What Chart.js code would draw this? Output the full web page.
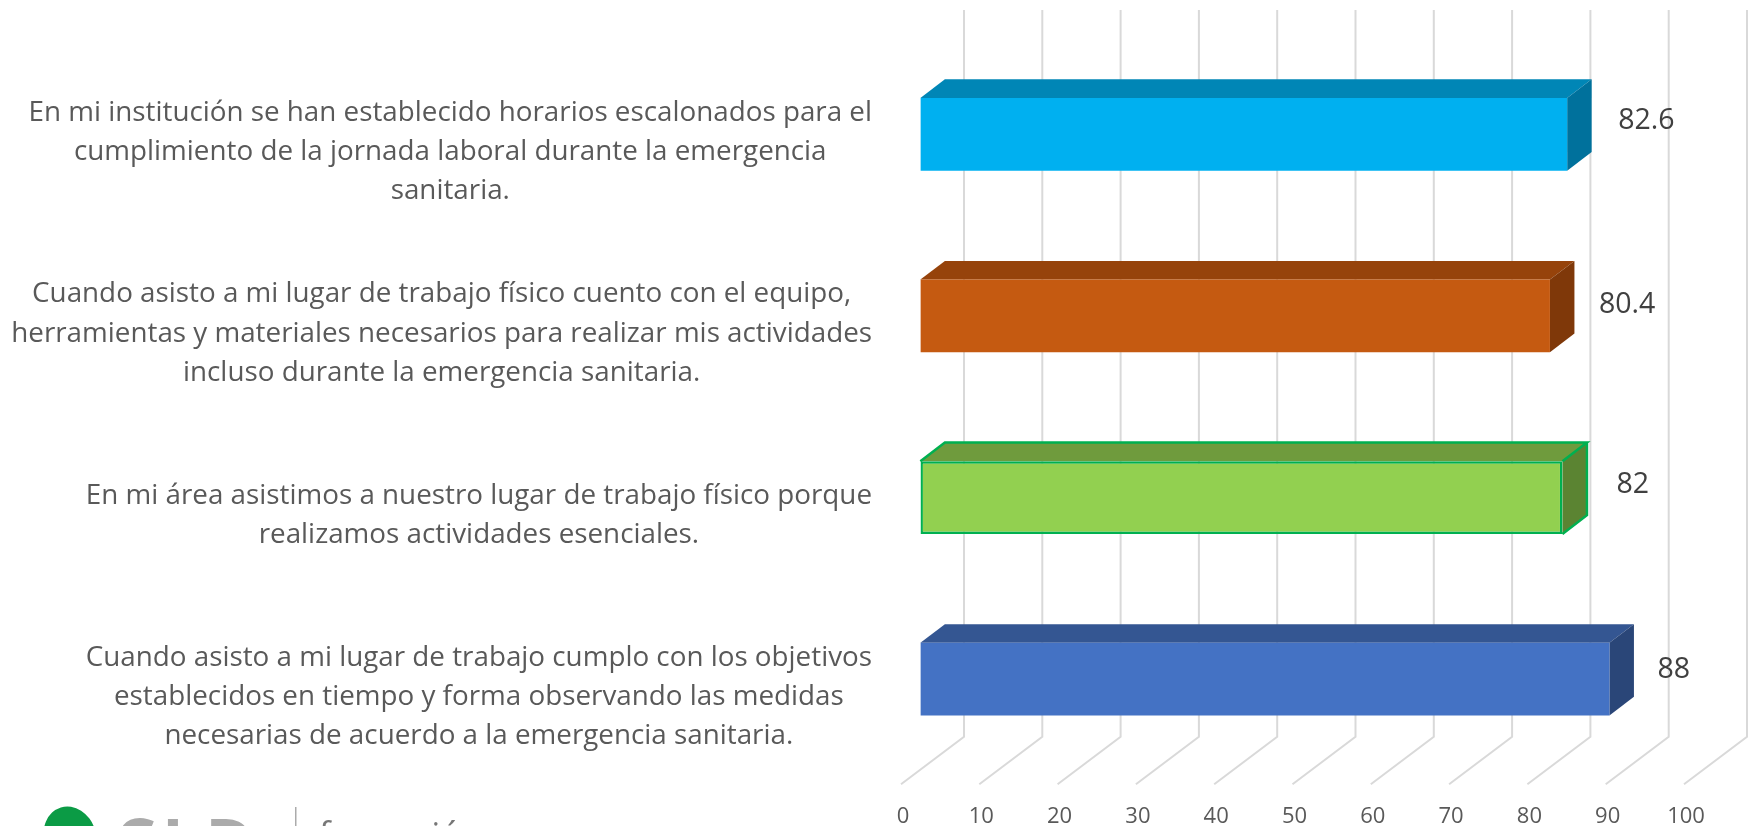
<!DOCTYPE html>
<html>
<head>
<meta charset="utf-8">
<script src="https://cdn.jsdelivr.net/npm/chart.js@4"></script>
<style>
    body {margin: 0; background: #fff;}
    canvas {display: block;}
</style>
</head>
<body>
<canvas id="bars_3d" width="1748" height="826"></canvas>
<script>
// categories, top to bottom
const categories = [
    ['En mi institución se han establecido horarios escalonados para el', 'cumplimiento de la jornada laboral durante la emergencia', 'sanitaria.'],
    ['Cuando asisto a mi lugar de trabajo físico cuento con el equipo,', 'herramientas y materiales necesarios para realizar mis actividades', 'incluso durante la emergencia sanitaria.'],
    ['En mi área asistimos a nuestro lugar de trabajo físico porque', 'realizamos actividades esenciales.'],
    ['Cuando asisto a mi lugar de trabajo cumplo con los objetivos', 'establecidos en tiempo y forma observando las medidas', 'necesarias de acuerdo a la emergencia sanitaria.']
];
const values = [82.6, 80.4, 82, 88];
const tick_values = [0, 10, 20, 30, 40, 50, 60, 70, 80, 90, 100];

const front_colors = ['#00B0F0', '#C55A11', '#92D050', '#4472C4'];
const top_colors = ['#0086B6', '#96430B', '#6F9B3D', '#345692'];
const side_colors = ['#00719C', '#7F3809', '#5B8432', '#2A4678'];
const border_colors = ['#00B0F0', '#C55A11', '#00B050', '#4472C4'];
const border_widths = [0, 0, 2.5, 0];

// data labels were dragged by hand in the original, so each has its own nudge
const label_dx = [51, 49, 54, 48];
const label_dy = [-13, -11, -13, -9];

const font_name = '"Open Sans"';
const text_color = '#595959';
const grid_color = '#D9D9D9';

// 3D box: floor line runs 63,-47.6; tick labels sit 2px right of its front end, bars 17.4px
const floor = {start: -2, dx: 63, dy: -47.6, bottom: 784.3};
const bar_inset = {dx: 17.4, dy: 0};
const bar_depth = {dx: 24.5, dy: -18.7};
const grid_top = 10;

const grid_box = {
    id: 'grid_box',
    beforeDatasetsDraw(chart) {
        const ctx = chart.ctx;
        const x = chart.scales.x;
        ctx.save();
        ctx.strokeStyle = grid_color;
        ctx.lineWidth = 2;
        tick_values.forEach(v => {
            const px = x.getPixelForValue(v) + floor.start;
            ctx.beginPath();
            ctx.moveTo(px, floor.bottom);
            ctx.lineTo(px + floor.dx, floor.bottom + floor.dy);
            ctx.lineTo(px + floor.dx, grid_top);
            ctx.stroke();
        });
        ctx.restore();
        // faces behind the front of each bar
        ctx.save();
        ctx.translate(bar_inset.dx, bar_inset.dy);
        chart.getDatasetMeta(0).data.forEach((bar, i) => {
            const half = bar.height / 2;
            const l = bar.base, r = bar.x, t = bar.y - half, b = bar.y + half;
            ctx.fillStyle = top_colors[i];
            ctx.beginPath();
            ctx.moveTo(l, t);
            ctx.lineTo(l + bar_depth.dx, t + bar_depth.dy);
            ctx.lineTo(r + bar_depth.dx, t + bar_depth.dy);
            ctx.lineTo(r, t);
            ctx.closePath();
            ctx.fill();
            ctx.fillStyle = side_colors[i];
            ctx.beginPath();
            ctx.moveTo(r, t);
            ctx.lineTo(r + bar_depth.dx, t + bar_depth.dy);
            ctx.lineTo(r + bar_depth.dx, b + bar_depth.dy);
            ctx.lineTo(r, b);
            ctx.closePath();
            ctx.fill();
            if (border_widths[i]) {
                ctx.strokeStyle = border_colors[i];
                ctx.lineWidth = border_widths[i];
                ctx.beginPath();
                ctx.moveTo(l, t);
                ctx.lineTo(l + bar_depth.dx, t + bar_depth.dy);
                ctx.lineTo(r + bar_depth.dx, t + bar_depth.dy);
                ctx.lineTo(r, t);
                ctx.moveTo(r + bar_depth.dx, t + bar_depth.dy);
                ctx.lineTo(r + bar_depth.dx, b + bar_depth.dy);
                ctx.lineTo(r, b);
                ctx.stroke();
            }
        });
        ctx.restore();
        // front faces go in the same shifted plane
        ctx.save();
        ctx.translate(bar_inset.dx, bar_inset.dy);
    },
    afterDatasetsDraw(chart) {
        const ctx = chart.ctx;
        ctx.restore();
        ctx.save();
        // value labels
        ctx.fillStyle = '#404040';
        ctx.font = '28.5px ' + font_name;
        ctx.textAlign = 'left';
        ctx.textBaseline = 'middle';
        chart.getDatasetMeta(0).data.forEach((bar, i) => {
            ctx.fillText(String(values[i]), bar.x + bar_inset.dx + label_dx[i], bar.y + label_dy[i]);
        });
        // category text: centred lines, block flush right
        ctx.fillStyle = text_color;
        ctx.font = '27.8px ' + font_name;
        ctx.textAlign = 'center';
        ctx.textBaseline = 'alphabetic';
        const y_scale = chart.scales.y;
        categories.forEach((lines, i) => {
            const widest = Math.max(...lines.map(s => ctx.measureText(s).width));
            const cx = 872 - widest / 2;
            const cy = y_scale.getPixelForValue(i) + 25.7;
            lines.forEach((line, n) => {
                ctx.fillText(line, cx, cy + (n - (lines.length - 1) / 2) * 39.3);
            });
        });
        // logo strip cut off by the page edge
        ctx.fillStyle = '#0B9B45';
        ctx.beginPath();
        ctx.ellipse(70, 837, 26, 31, -0.3, 0, Math.PI * 2);
        ctx.fill();
        ctx.fillStyle = '#ABABAB';
        ctx.font = 'bold 66px ' + font_name;
        ctx.textAlign = 'left';
        ctx.letterSpacing = '6px';
        ctx.fillText('CLD', 114, 867);
        ctx.letterSpacing = '0px';
        ctx.fillRect(295, 807, 1.5, 19);
        ctx.fillStyle = '#777777';
        ctx.font = '34px ' + font_name;
        ctx.fillText('formación', 319, 847);
        ctx.restore();
    }
};

const config_bar = {
    type: 'bar',
    data: {
        labels: categories,
        datasets: [{
            data: values,
            backgroundColor: front_colors,
            borderColor: border_colors,
            borderWidth: border_widths,
            borderSkipped: false,
            barPercentage: 0.4,
            categoryPercentage: 1
        }]
    },
    options: {
        indexAxis: 'y',
        responsive: false,
        animation: false,
        layout: {padding: {top: 43.5, right: 62, bottom: 0, left: 0}},
        plugins: {legend: {display: false}, tooltip: {enabled: false}},
        scales: {
            x: {
                min: 0,
                max: 100,
                afterBuildTicks(axis) {
                    axis.ticks = tick_values.map(v => ({value: v}));
                },
                afterFit(axis) {
                    axis.height = 56;
                },
                grid: {display: false, drawTicks: false},
                border: {display: false},
                ticks: {color: text_color, font: {family: font_name, size: 22}, padding: 34, maxRotation: 0}
            },
            y: {
                afterFit(axis) {
                    axis.width = 903;
                },
                grid: {display: false, drawTicks: false},
                border: {display: false},
                ticks: {display: false}
            }
        }
    },
    plugins: [grid_box]
};

const chart_bar = new Chart(document.getElementById('bars_3d'), config_bar);
</script>
</body>
</html>
